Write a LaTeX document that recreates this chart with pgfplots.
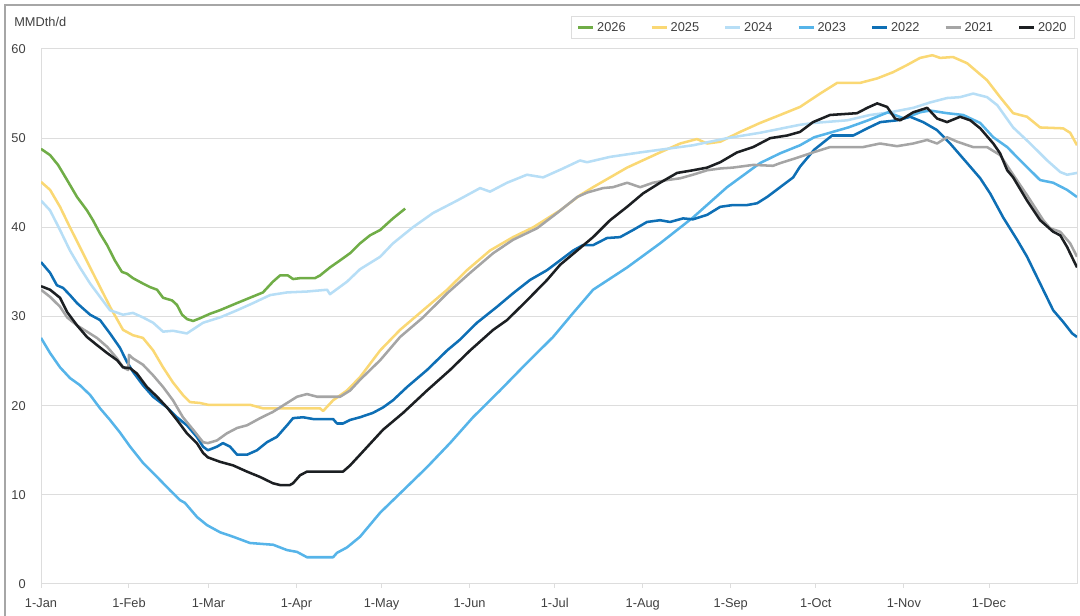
\documentclass[border=0pt]{standalone}
\usepackage{fontspec}
\setmainfont{Liberation Sans}
\usepackage{pgfplots}
\pgfplotsset{compat=1.18}
\definecolor{cA}{HTML}{70AD47}
\definecolor{cB}{HTML}{FAD874}
\definecolor{cC}{HTML}{B7DEF6}
\definecolor{cD}{HTML}{56B4E9}
\definecolor{cE}{HTML}{0E6FB5}
\definecolor{cF}{HTML}{A5A5A5}
\definecolor{cG}{HTML}{1C1F22}
\definecolor{gridc}{HTML}{DDDDDD}
\definecolor{txt}{HTML}{404040}
\begin{document}
\begin{tikzpicture}
\begin{axis}[name=ax, scale only axis, width=777pt, height=401.25pt,
  xmin=0, xmax=365, ymin=0, ymax=60,
  xtick={0,31,59,90,120,151,181,212,243,273,304,334},
  xticklabels={1-Jan,1-Feb,1-Mar,1-Apr,1-May,1-Jun,1-Jul,1-Aug,1-Sep,1-Oct,1-Nov,1-Dec},
  ytick={0,10,20,30,40,50,60},
  xtick pos=bottom, ytick pos=left,
  ymajorgrids, grid style={draw=gridc, line width=0.75pt},
  axis line style={draw=gridc, line width=0.75pt},
  tick align=outside, major tick length=3pt,
  xtick style={draw=gridc, line width=0.75pt},
  ytick style={draw=none},
  tick label style={font=\fontsize{9.6}{11}\selectfont, text=txt},
  /pgf/number format/assume math mode=true,
  yticklabel style={xshift=-5pt},
  xticklabel style={yshift=-4pt, text height=7pt, text depth=2pt},
  legend columns=7,
  legend style={at={(1,1)}, anchor=south east, xshift=-1.5pt, yshift=7.5pt,
    draw=gridc, line width=0.75pt, font=\fontsize{9.6}{11}\selectfont, text=txt,
    inner xsep=4pt, inner ysep=2pt,
    /tikz/every even column/.append style={column sep=16.5pt}},
  legend image code/.code={\draw[#1, line width=2pt] (0pt,0pt) -- (11.25pt,0pt);},
  every axis plot/.append style={line width=1.9pt, line join=round},
]
% 2026
\addplot[cA] coordinates {(0,48.8)(3.2,48.1)(6,47.0)(9.2,45.3)(12.7,43.4)(16.2,41.9)(18.3,40.8)(20.8,39.3)(23.3,38.0)(26,36.3)(28.5,35.0)(30.3,34.8)(32.4,34.3)(35.9,33.7)(38.4,33.3)(40.9,33.0)(43,32.1)(46.2,31.8)(47.9,31.3)(49.7,30.2)(51.5,29.7)(53.6,29.5)(56,29.8)(59.5,30.3)(63,30.7)(69,31.5)(73.6,32.1)(78.2,32.7)(81.7,33.9)(84.2,34.6)(87,34.6)(88.8,34.2)(91.3,34.3)(96.5,34.3)(98.3,34.6)(101.8,35.5)(105.4,36.3)(108.9,37.1)(112.4,38.2)(115.9,39.1)(119.5,39.7)(124,41.0)(128.3,42.1)};
\addlegendentry{2026}
% 2025
\addplot[cB] coordinates {(0,45.1)(3.2,44.2)(6.7,42.3)(10.2,40.0)(13.7,37.8)(17.3,35.5)(20.8,33.3)(24.3,31.1)(28.9,28.5)(32.4,27.9)(35.9,27.6)(39.5,26.2)(43,24.3)(46.5,22.6)(50,21.2)(52.5,20.4)(56,20.3)(58.8,20.1)(73.6,20.1)(78.2,19.7)(98.3,19.7)(99.4,19.4)(102.9,20.6)(107.8,21.7)(112.4,23.2)(119.5,26.2)(126.5,28.5)(134.6,30.7)(143.1,33.0)(150.1,35.2)(158.2,37.4)(166.3,38.9)(173.4,40.0)(182.9,41.9)(189.9,43.6)(194.5,44.5)(206.5,46.7)(218.1,48.4)(225.2,49.4)(231.1,49.9)(234.7,49.4)(239.3,49.6)(246.3,50.7)(253.3,51.7)(260.4,52.6)(267.4,53.5)(274.5,55.0)(280.5,56.2)(288.6,56.2)(294.6,56.7)(300.2,57.4)(305.1,58.2)(309.7,59.0)(314,59.3)(316.8,59.0)(321.3,59.1)(326.3,58.4)(333.3,56.5)(337.9,54.6)(342.5,52.8)(347.4,52.4)(352,51.2)(360.1,51.1)(362.6,50.6)(365,49.2)};
\addlegendentry{2025}
% 2024
\addplot[cC] coordinates {(0,43.0)(3.2,41.9)(6.7,39.7)(10.2,37.4)(13.7,35.5)(17.3,33.7)(20.8,32.2)(24.3,30.7)(28.9,30.2)(32.4,30.4)(35.9,29.9)(39.5,29.3)(43,28.3)(46.5,28.4)(51.4,28.1)(57.1,29.3)(63.1,29.9)(69.1,30.7)(74.7,31.5)(80.7,32.4)(86.7,32.7)(93.7,32.8)(100.8,33.0)(101.8,32.5)(107.8,33.9)(112.4,35.3)(119.5,36.7)(124,38.2)(131,40.0)(138.1,41.6)(146.6,43.0)(154.7,44.4)(158.2,44.0)(164.2,45.0)(171.2,45.9)(176.9,45.6)(183.9,46.6)(189.9,47.5)(192.4,47.3)(200.5,47.9)(211.1,48.4)(218.1,48.7)(229.7,49.2)(241.7,50.0)(253.3,50.6)(267.4,51.5)(272,51.7)(284,52.0)(292.1,52.6)(299.2,52.9)(307.3,53.4)(313.2,54.0)(319.2,54.5)(323.8,54.6)(328.4,55.0)(333.3,54.6)(336.9,53.7)(342.5,51.2)(348.5,49.4)(354.5,47.5)(359.1,46.2)(361.5,45.9)(365,46.1)};
\addlegendentry{2024}
% 2023
\addplot[cD] coordinates {(0,27.6)(3.2,25.9)(6.7,24.3)(10.2,23.1)(13.7,22.3)(17.3,21.2)(20.8,19.7)(24.3,18.4)(27.8,17.0)(31.4,15.4)(35.9,13.6)(40.9,12.0)(45.5,10.5)(49,9.4)(50.7,9.1)(55,7.5)(58.5,6.6)(63.1,5.8)(67.7,5.3)(73.6,4.6)(81.8,4.4)(86.7,3.8)(90.2,3.6)(93.7,3.0)(102.9,3.0)(104.3,3.5)(107.8,4.1)(112.4,5.3)(119.5,8.0)(127.6,10.5)(136,13.1)(144.1,15.8)(152.2,18.7)(161.7,21.7)(171.2,24.8)(180.4,27.7)(187.5,30.4)(194.5,33.0)(206.5,35.5)(218.1,38.2)(229.7,41.1)(241.7,44.5)(253.3,47.2)(260.4,48.3)(267.4,49.2)(272.4,50.1)(284.4,51.2)(291.4,52.0)(298.4,52.9)(304.1,52.2)(309.7,52.9)(313.2,53.1)(319.2,52.8)(324.9,52.6)(330.9,51.7)(335.5,50.1)(340.4,49.0)(345,47.5)(352,45.3)(356.6,45.0)(361.5,44.2)(365,43.4)};
\addlegendentry{2023}
% 2022
\addplot[cE] coordinates {(0,36.1)(3.2,34.9)(5.6,33.5)(7.8,33.2)(10.2,32.4)(12.7,31.5)(14.8,30.9)(17.3,30.2)(20.8,29.6)(24.3,28.1)(27.8,26.5)(30.3,24.9)(32.4,23.8)(35.9,22.3)(39.5,21.0)(44.4,19.8)(47.9,18.7)(51.4,17.8)(54.9,16.5)(57.1,15.4)(58.8,15.0)(62,15.4)(64.1,15.8)(66.6,15.4)(69.1,14.5)(72.6,14.5)(76.1,15.0)(79.6,15.9)(83.1,16.5)(86.7,17.8)(88.8,18.6)(92.3,18.7)(95.9,18.5)(102.9,18.5)(104.3,18.0)(106.4,18.0)(108.9,18.4)(112.4,18.7)(117,19.2)(120.5,19.8)(124,20.6)(129,22.1)(136,24.0)(143.1,26.2)(147.6,27.4)(153.6,29.3)(160.7,31.1)(166.3,32.6)(172.3,34.1)(178.3,35.2)(182.9,36.3)(187.5,37.4)(190.9,38.0)(194.5,38.0)(199.4,38.8)(204,38.9)(208.6,39.7)(213.5,40.6)(218.1,40.8)(221.6,40.6)(226.2,41.0)(229.7,40.9)(234.7,41.4)(239.3,42.3)(243.8,42.5)(248.8,42.5)(252.3,42.7)(255.8,43.4)(260.4,44.5)(265,45.6)(267.4,46.8)(272.4,48.7)(278.7,50.3)(286.2,50.3)(291.1,51.1)(295.7,51.8)(301.6,52.0)(306.2,52.4)(310.8,51.8)(315.7,50.9)(320.3,49.4)(326.3,47.2)(330.9,45.5)(334.4,43.8)(339,41.1)(343.9,38.6)(347.4,36.7)(352,33.7)(356.6,30.7)(360.1,29.4)(363.3,28.1)(365,27.7)};
\addlegendentry{2022}
% 2021
\addplot[cF] coordinates {(0,33.0)(3.2,32.2)(6.7,31.1)(9.2,29.9)(12.7,29.0)(16.2,28.3)(19.7,27.6)(23.3,26.6)(26.8,25.3)(28.9,24.3)(30.7,24.0)(31,25.7)(32.4,25.3)(35.9,24.6)(39.5,23.4)(43,22.1)(46.5,20.6)(50,18.7)(53.6,17.3)(57.1,15.9)(58.8,15.8)(62,16.1)(65.5,16.9)(69.1,17.5)(72.6,17.8)(77.2,18.6)(81.7,19.3)(86.7,20.3)(90.2,21.0)(93.7,21.3)(97.3,21.0)(105.4,21.0)(108.9,21.7)(112.4,22.9)(119.5,25.1)(126.5,27.7)(134.6,29.9)(143.1,32.6)(151.2,34.9)(159.3,37.1)(166.3,38.6)(174.8,39.9)(181.8,41.6)(188.9,43.4)(192.4,43.9)(198,44.4)(201.5,44.5)(206.5,45.0)(211.1,44.5)(215.6,45.0)(220.6,45.3)(225.2,45.5)(229.7,45.9)(234.7,46.4)(239.3,46.6)(243.8,46.7)(250.9,47.0)(257.9,46.9)(260.4,47.2)(266.4,47.8)(272,48.4)(278,49.0)(289.6,49.0)(295.6,49.4)(301.6,49.1)(307.3,49.4)(312.2,49.8)(315.7,49.4)(319.2,50.1)(322.8,49.6)(328.4,49.0)(333.3,49.0)(337.9,48.1)(342.5,45.9)(347.4,43.6)(353.1,40.8)(355.5,39.9)(359.1,39.5)(362.6,38.2)(365,36.7)};
\addlegendentry{2021}
% 2020
\addplot[cG] coordinates {(0,33.4)(3.2,33.0)(6.7,32.1)(9.2,30.5)(12.7,29.0)(16.2,27.7)(19.7,26.8)(23.3,25.9)(26.8,25.1)(28.9,24.3)(31.4,24.2)(33.8,23.6)(37.3,22.1)(40.9,21.0)(44.4,19.8)(47.9,18.4)(51.4,16.9)(54.9,15.8)(57.1,14.7)(58.8,14.2)(63.1,13.7)(67.7,13.3)(72.6,12.6)(77.2,12.0)(81.7,11.3)(84.2,11.1)(87.7,11.1)(88.8,11.3)(91.3,12.2)(93.7,12.6)(106.4,12.6)(108.9,13.3)(112.4,14.5)(120.5,17.3)(127.6,19.2)(136,21.7)(144.1,24.0)(151.2,26.2)(159.3,28.5)(164.2,29.6)(171.2,31.8)(178.3,34.1)(182.9,35.8)(188.9,37.4)(194.5,38.9)(200.5,40.8)(206.5,42.3)(212.1,43.8)(218.1,45.0)(224.1,46.1)(229.7,46.4)(234.7,46.7)(239.3,47.3)(245.2,48.4)(250.9,49.0)(256.9,50.0)(262.9,50.3)(267.4,50.7)(272,51.8)(278,52.6)(287.5,52.8)(291.1,53.4)(294.6,53.9)(298.1,53.5)(300.9,52.2)(302.7,52.0)(307.3,52.9)(312.2,53.4)(315.7,52.2)(319.2,51.8)(323.8,52.4)(327.4,52.0)(330.9,51.1)(335.5,49.4)(337.9,48.3)(340.4,46.4)(342.5,45.6)(347.4,43.0)(352,40.8)(356.6,39.5)(359.1,39.1)(361.5,37.8)(365,35.5)};
\addlegendentry{2020}
\end{axis}
\node[anchor=west, inner sep=0pt, font=\fontsize{9.6}{11}\selectfont, text=txt] at ([xshift=-20.25pt, yshift=20.25pt]ax.north west) {MMDth/d};
\draw[gray!70, line width=1pt] ([xshift=-27pt,yshift=-24pt]ax.south west) -- ([xshift=-27pt,yshift=33pt]ax.north west) -- ([xshift=2.25pt,yshift=33pt]ax.north east);
\pgfresetboundingbox
\path[use as bounding box] ([xshift=-30.75pt,yshift=-24pt]ax.south west) rectangle ([xshift=2.25pt,yshift=36.75pt]ax.north east);
\end{tikzpicture}
\end{document}
